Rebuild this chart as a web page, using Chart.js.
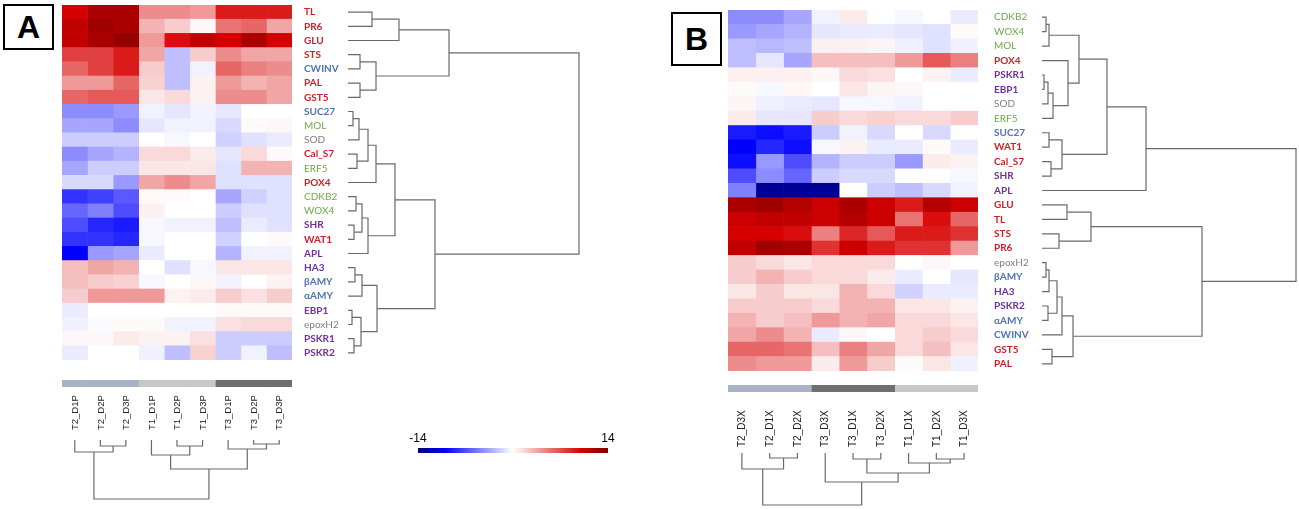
<!DOCTYPE html>
<html>
<head>
<meta charset="utf-8">
<script src="https://cdn.jsdelivr.net/npm/chart.js@4.4.0/dist/chart.umd.min.js"></script>
<style>
  body { margin: 0; background: #fff; width: 1299px; height: 509px; position: relative; overflow: hidden; }
  canvas { position: absolute; }
  .tag { position: absolute; box-sizing: border-box; border: 2px solid #000; display: flex; align-items: center; justify-content: center;
         font: bold 32px "Liberation Sans", Arial, sans-serif; color: #000; }
</style>
</head>
<body>
<div class="tag" style="left:3px;top:4px;width:51px;height:46px">A</div>
<div class="tag" style="left:671px;top:12px;width:51px;height:54px">B</div>

<canvas id="heatA" width="290" height="355" style="left:62px;top:5px"></canvas>
<canvas id="rowDendA" width="240" height="355" style="left:348px;top:5px"></canvas>
<canvas id="groupA" width="230" height="7" style="left:62px;top:380px"></canvas>
<canvas id="colDendA" width="230" height="110" style="left:62px;top:395px"></canvas>
<canvas id="legendA" width="240" height="24" style="left:395px;top:432px"></canvas>

<canvas id="heatB" width="310" height="361" style="left:728px;top:10px"></canvas>
<canvas id="rowDendB" width="257" height="361" style="left:1042px;top:10px"></canvas>
<canvas id="groupB" width="250" height="7" style="left:728px;top:385px"></canvas>
<canvas id="colDendB" width="250" height="101" style="left:728px;top:408px"></canvas>

<script>
// ---- panel A data ----
const genesA = ['TL', 'PR6', 'GLU', 'STS', 'CWINV', 'PAL', 'GST5', 'SUC27', 'MOL', 'SOD', 'Cal_S7', 'ERF5', 'POX4',
  'CDKB2', 'WOX4', 'SHR', 'WAT1', 'APL', 'HA3', 'βAMY', 'αAMY', 'EBP1', 'epoxH2', 'PSKR1', 'PSKR2'];
const samplesA = ['T2_D1P', 'T2_D2P', 'T2_D3P', 'T1_D1P', 'T1_D2P', 'T1_D3P', 'T3_D1P', 'T3_D2P', 'T3_D3P'];
const groupsA = ['T2', 'T2', 'T2', 'T1', 'T1', 'T1', 'T3', 'T3', 'T3'];
const valuesA = [
  [10, 12, 12, 4.5, 4.5, 4, 9, 9, 9],                 // TL
  [11, 12.5, 12, 3, 2, 0.3, 5.5, 6, 3.5],             // PR6
  [11, 12, 13, 4, 9.5, 11, 10, 12, 10],               // GLU
  [7.5, 7.5, 9, 3.5, -2.5, 2, 4.5, 3.5, 3.5],         // STS
  [6, 7.5, 9, 2, -2.5, -0.5, 6, 5, 4.5],              // CWINV
  [4, 4, 6, 1.8, -2.5, 0.5, 4, 3, 3.5],               // PAL
  [6, 6.5, 6.5, 1, 1.5, 0.5, 4.5, 4.5, 3.5],          // GST5
  [-4.5, -4.5, -4, -0.5, -1, -0.5, -1, 0, 0],         // SUC27
  [-3.5, -3.5, -4.5, -1, -0.5, -0.5, -1.5, 0.2, 0.3], // MOL
  [-2, -2, -2, 0, -0.3, 0, -1.8, -1.2, -0.8],         // SOD
  [-4.5, -3.5, -3, 1.5, 1.5, 0.8, -1, 1.5, 0.2],      // Cal_S7
  [-3.5, -2, -2, 1, 1, 1, -1.2, 3, 3],                // ERF5
  [-1.5, -1.5, -4, 3.5, 4.5, 3.5, -1.2, -1.2, -1.2],  // POX4
  [-8, -7.5, -6.5, 0.2, 0.2, 0, -3.5, -1.8, -1.2],    // CDKB2
  [-6, -5, -7, 0.6, 0, 0, -2, -1.2, -1.2],            // WOX4
  [-7, -8.5, -9, -0.3, -0.5, -0.5, -2.5, -0.8, -1.2], // SHR
  [-8, -8, -8.5, -0.3, 0, 0, -1.8, 0, 0.2],           // WAT1
  [-10, -4, -3.5, -0.8, 0, 0, -3, -0.5, -0.5],        // APL
  [2.5, 3.5, 3, 0, -1.2, -0.3, 1, 1, 1],              // HA3
  [2.5, 2, 1.8, -0.3, 0, 0.3, -0.5, 0, 0.5],          // βAMY
  [2, 4, 4, 4, 0.5, 0.8, 2, 1.2, 2],                  // αAMY
  [-0.8, 0, 0, 0, 0, 0, 0.2, 0.2, 0.2],               // EBP1
  [-0.6, -0.2, 0.2, 0.2, -0.5, -0.5, 1.2, 1.5, 1.5],  // epoxH2
  [0.3, 0.3, 0.8, 0.5, 0.5, 1.2, -2, -2, -2],         // PSKR1
  [-0.8, 0, 0, -0.6, -2.5, 1.8, -2, -0.5, -2.5]       // PSKR2
];
// linkage: [child, child, height]; a child is a leaf name or the index of an earlier merge
const rowLinkA = [
  ['TL', 'PR6', 24], [0, 'GLU', 51], ['STS', 'CWINV', 12], ['PAL', 'GST5', 12], [2, 3, 28], [1, 4, 101],
  ['SUC27', 'MOL', 5], [6, 'SOD', 11], ['Cal_S7', 'ERF5', 9], [7, 8, 20], [9, 'POX4', 28],
  ['CDKB2', 'WOX4', 8], ['SHR', 'WAT1', 6], [11, 12, 14], [13, 'APL', 20], [10, 14, 47],
  ['HA3', 'βAMY', 7], [16, 'αAMY', 14], ['EBP1', 'epoxH2', 4], ['PSKR1', 'PSKR2', 6], [18, 19, 13],
  [17, 20, 29], [15, 21, 87], [5, 22, 231]
];
const colLinkA = [
  ['T2_D2P', 'T2_D3P', 6], ['T2_D1P', 0, 12], ['T1_D2P', 'T1_D3P', 6], ['T1_D1P', 2, 15],
  ['T3_D2P', 'T3_D3P', 4], ['T3_D1P', 4, 9], [3, 5, 29], [1, 6, 59]
];
const legendTicks = [-14, 14];

// ---- panel B data ----
const genesB = ['CDKB2', 'WOX4', 'MOL', 'POX4', 'PSKR1', 'EBP1', 'SOD', 'ERF5', 'SUC27', 'WAT1', 'Cal_S7', 'SHR', 'APL',
  'GLU', 'TL', 'STS', 'PR6', 'epoxH2', 'βAMY', 'HA3', 'PSKR2', 'αAMY', 'CWINV', 'GST5', 'PAL'];
const samplesB = ['T2_D3X', 'T2_D1X', 'T2_D2X', 'T3_D3X', 'T3_D1X', 'T3_D2X', 'T1_D1X', 'T1_D2X', 'T1_D3X'];
const groupsB = ['T2', 'T2', 'T2', 'T3', 'T3', 'T3', 'T1', 'T1', 'T1'];
const valuesB = [
  [-4.5, -4.5, -3.5, -0.5, 0.8, 0, -0.3, 0, -0.8],    // CDKB2
  [-4, -3.5, -3, -1, -0.8, -0.8, -1, -1.2, 0.2],      // WOX4
  [-2.5, -2.8, -2.5, 0.6, 0.6, 0.4, -0.6, -1.2, -0.6], // MOL
  [-2.5, -1, -3.5, 2.5, 2.5, 2.5, 4, 6.5, 5],         // POX4
  [0.6, 0.6, 0.6, 0.3, 1.5, 1.2, 0, 0.5, -0.8],       // PSKR1
  [0.2, -0.3, 0.3, 0, 1, 0.4, 0.3, 0, 0],             // EBP1
  [0.4, -0.6, -0.8, -1, -0.3, -0.3, -0.5, 0, 0],      // SOD
  [0.8, -1, -1, 2, 1.5, 1.8, 1.5, 1.5, 2],            // ERF5
  [-9, -9.5, -9, -2, -0.5, -1.5, 0, -1.5, 0],         // SUC27
  [-10, -8.5, -9.5, -0.3, 0.5, -0.8, -0.8, 0.2, -0.8], // WAT1
  [-9.5, -4, -7, -3, -2, -2, -4, 0.8, 0.5],           // Cal_S7
  [-7, -4.5, -6, -2, -1.5, -1.5, 0, 0, -0.3],         // SHR
  [-5, -13, -13, -13, 0, -2, -2.5, -1.5, -0.5],       // APL
  [12, 12.5, 11.5, 10.5, 12, 10.5, 9, 11.5, 10.5],    // GLU
  [10.5, 11, 11, 10.5, 11.5, 10.5, 5.5, 9.5, 6],      // TL
  [10, 10, 9.5, 5, 8.5, 6.5, 9, 9, 8],                // STS
  [11, 12.5, 12, 8, 10.5, 9, 8, 8, 4],                // PR6
  [2, 1.5, 1, 1.5, 1.5, 1.5, 0, 0.3, 0],              // epoxH2
  [2, 3, 2, 1.5, 1.5, 0.8, -0.8, 0, -1],              // βAMY
  [1, 2, 1, 1, 3, 1.5, -1.8, -0.8, -0.8],             // HA3
  [2, 2, 2, 1.5, 3, 3, 1, 1, 0.5],                    // PSKR2
  [3, 2, 2.5, 4, 3, 3.5, 1.5, 1.5, 1],                // αAMY
  [3.5, 4.5, 3, -0.8, 0.3, 0, 1.5, 2, 1.5],           // CWINV
  [6, 6, 5.5, 2.5, 5, 3.5, 1.5, 2.5, 1],              // GST5
  [4.5, 4, 4, 0.8, 4, 2, 0.2, 1, -0.6]                // PAL
];
const rowLinkB = [
  ['CDKB2', 'WOX4', 4], [0, 'MOL', 7], ['PSKR1', 'EBP1', 2], [2, 'SOD', 6], [3, 'ERF5', 11], ['POX4', 4, 26],
  [1, 5, 37], ['SUC27', 'WAT1', 7], ['Cal_S7', 'SHR', 9], [7, 8, 20], [6, 9, 65], [10, 'APL', 104],
  ['GLU', 'TL', 25], ['STS', 'PR6', 17], [12, 13, 49],
  ['epoxH2', 'βAMY', 4], [15, 'HA3', 7], ['PSKR2', 'αAMY', 6], [16, 17, 15], [18, 'CWINV', 20],
  ['GST5', 'PAL', 10], [19, 20, 31], [14, 21, 160], [11, 22, 254]
];
const colLinkB = [
  ['T2_D1X', 'T2_D2X', 5], ['T2_D3X', 0, 16], ['T3_D1X', 'T3_D2X', 6], ['T1_D2X', 'T1_D3X', 6],
  ['T1_D1X', 3, 10], [2, 4, 20], ['T3_D3X', 5, 29], [1, 6, 52]
];

// ---- styles ----
const RED = '#cf1f26', BLUE = '#4f74b3', GREEN = '#6aab46', GREY = '#808080', PURPLE = '#7030a0';
const geneColors = {
  TL: RED, PR6: RED, GLU: RED, STS: RED, CWINV: BLUE, PAL: RED, GST5: RED, SUC27: BLUE, MOL: GREEN, SOD: GREY,
  Cal_S7: RED, ERF5: GREEN, POX4: RED, CDKB2: GREEN, WOX4: GREEN, SHR: PURPLE, WAT1: RED, APL: PURPLE,
  HA3: PURPLE, 'βAMY': BLUE, 'αAMY': BLUE, EBP1: PURPLE, epoxH2: GREY, PSKR1: PURPLE, PSKR2: PURPLE
};
const groupColors = { T1: '#c8c8c8', T2: '#a9b3c8', T3: '#6f6f6f' };
const LINE = '#6a6a6a';
const colorStops = [[-14, [0, 0, 115]], [-10, [0, 0, 255]], [0, [255, 255, 255]], [10, [215, 0, 0]], [14, [125, 0, 0]]];

function valueColor(v) {
  v = Math.max(-14, Math.min(14, v));
  for (let i = 1; i < colorStops.length; i++) {
    const [v0, c0] = colorStops[i - 1], [v1, c1] = colorStops[i];
    if (v <= v1) {
      const t = (v - v0) / (v1 - v0);
      const c = c0.map((x, k) => Math.round(x + (c1[k] - x) * t));
      return `rgb(${c[0]},${c[1]},${c[2]})`;
    }
  }
  return 'rgb(125,0,0)';
}

const base = {
  responsive: false,
  animation: false,
  layout: { padding: 0 },
  plugins: { legend: { display: false }, tooltip: { enabled: false } }
};

function heatmap(id, genes, samples, values, axisWidth, gap) {
  const datasets = samples.map((s, j) => ({
    label: s,
    data: genes.map(() => 1),
    backgroundColor: genes.map((g, i) => valueColor(values[i][j])),
    borderWidth: 0,
    barPercentage: 1,
    categoryPercentage: 1
  }));
  new Chart(document.getElementById(id), {
    type: 'bar',
    data: { labels: genes, datasets },
    options: {
      ...base,
      indexAxis: 'y',
      scales: {
        x: { stacked: true, min: 0, max: samples.length, display: false },
        y: {
          stacked: true,
          position: 'right',
          grid: { display: false, drawTicks: false },
          border: { display: false },
          ticks: {
            autoSkip: false,
            padding: gap,
            color: ctx => geneColors[genes[ctx.index]],
            font: ctx => {
              const c = geneColors[genes[ctx.index]];
              return { family: 'Lato', size: 10, weight: (c === GREEN || c === GREY) ? 'normal' : 'bold' };
            }
          },
          afterFit: s => { s.width = axisWidth; s.paddingTop = 0; s.paddingBottom = 0; }
        }
      }
    }
  });
}

function groupBar(id, samples, groups) {
  new Chart(document.getElementById(id), {
    type: 'bar',
    data: {
      labels: [''],
      datasets: samples.map((s, j) => ({
        label: s, data: [1], backgroundColor: groupColors[groups[j]],
        borderWidth: 0, barPercentage: 1, categoryPercentage: 1
      }))
    },
    options: {
      ...base,
      indexAxis: 'y',
      scales: {
        x: { stacked: true, min: 0, max: samples.length, display: false },
        y: { stacked: true, display: false }
      }
    }
  });
}

// U-shaped segments for each merge: leaf positions are index + 0.5
function dendroSegments(leaves, links) {
  const leafPos = {};
  leaves.forEach((l, i) => { leafPos[l] = { p: i + 0.5, h: 0 }; });
  const nodes = [];
  const get = k => (typeof k === 'number' ? nodes[k] : leafPos[k]);
  return links.map(([a, b, h]) => {
    const A = get(a), B = get(b);
    nodes.push({ p: (A.p + B.p) / 2, h });
    return [[A.p, A.h], [A.p, h], [B.p, h], [B.p, B.h]];
  });
}

function lineSets(segs, rowWise) {
  return segs.map(seg => ({
    data: seg.map(([p, h]) => (rowWise ? { x: h, y: p } : { x: p, y: h })),
    showLine: true, borderColor: LINE, borderWidth: 1.2, pointRadius: 0, tension: 0, clip: 3
  }));
}

function rowDendro(id, genes, links, maxH) {
  new Chart(document.getElementById(id), {
    type: 'scatter',
    data: { datasets: lineSets(dendroSegments(genes, links), true) },
    options: {
      ...base,
      scales: {
        x: { type: 'linear', min: 0, max: maxH, display: false },
        y: { type: 'linear', min: 0, max: genes.length, reverse: true, display: false }
      }
    }
  });
}

function colDendro(id, samples, links, maxH, labelSize, labelPad, labelShift) {
  new Chart(document.getElementById(id), {
    type: 'scatter',
    data: { datasets: lineSets(dendroSegments(samples, links), false) },
    options: {
      ...base,
      scales: {
        x: {
          type: 'linear', position: 'top', min: 0, max: samples.length,
          grid: { display: false, drawTicks: false },
          border: { display: false },
          afterBuildTicks: s => { s.ticks = samples.map((_, i) => ({ value: i + 0.5 })); },
          ticks: {
            autoSkip: false, minRotation: 90, maxRotation: 90, padding: labelPad, labelOffset: labelShift,
            color: '#222', font: { family: 'Liberation Sans', size: labelSize },
            callback: (v, i) => samples[i]
          },
          afterFit: s => { s.height = 45; s.paddingLeft = 0; s.paddingRight = 0; }
        },
        y: { type: 'linear', min: 0, max: maxH, reverse: true, display: false }
      }
    }
  });
}

function legendBar(id) {
  new Chart(document.getElementById(id), {
    type: 'bar',
    data: {
      labels: [''],
      datasets: [{
        data: [[legendTicks[0], legendTicks[1]]],
        borderWidth: 0, barPercentage: 1, categoryPercentage: 1,
        backgroundColor: ctx => {
          const ch = ctx.chart, area = ch.chartArea;
          if (!area) return '#fff';
          const xs = ch.scales.x;
          const g = ch.ctx.createLinearGradient(xs.getPixelForValue(-14), 0, xs.getPixelForValue(14), 0);
          for (let v = -14; v <= 14; v++) g.addColorStop((v + 14) / 28, valueColor(v));
          return g;
        }
      }]
    },
    options: {
      ...base,
      indexAxis: 'y',
      layout: { padding: { left: 23, right: 27, top: 0, bottom: 3 } },
      scales: {
        x: {
          type: 'linear', position: 'top', min: -14, max: 14,
          grid: { display: false, drawTicks: false },
          border: { display: false },
          afterBuildTicks: s => { s.ticks = legendTicks.map(v => ({ value: v })); },
          ticks: { padding: 2, color: '#000', font: { family: 'Liberation Sans', size: 12 } },
          afterFit: s => { s.height = 16; s.paddingLeft = 0; s.paddingRight = 0; }
        },
        y: { display: false }
      }
    }
  });
}

heatmap('heatA', genesA, samplesA, valuesA, 60, 12);
rowDendro('rowDendA', genesA, rowLinkA, 240);
groupBar('groupA', samplesA, groupsA);
colDendro('colDendA', samplesA, colLinkA, 65, 9.5, 10, 12);
legendBar('legendA');

heatmap('heatB', genesB, samplesB, valuesB, 60, 16);
rowDendro('rowDendB', genesB, rowLinkB, 257);
groupBar('groupB', samplesB, groupsB);
colDendro('colDendB', samplesB, colLinkB, 56, 10, 6, 12.5);
</script>
</body>
</html>
